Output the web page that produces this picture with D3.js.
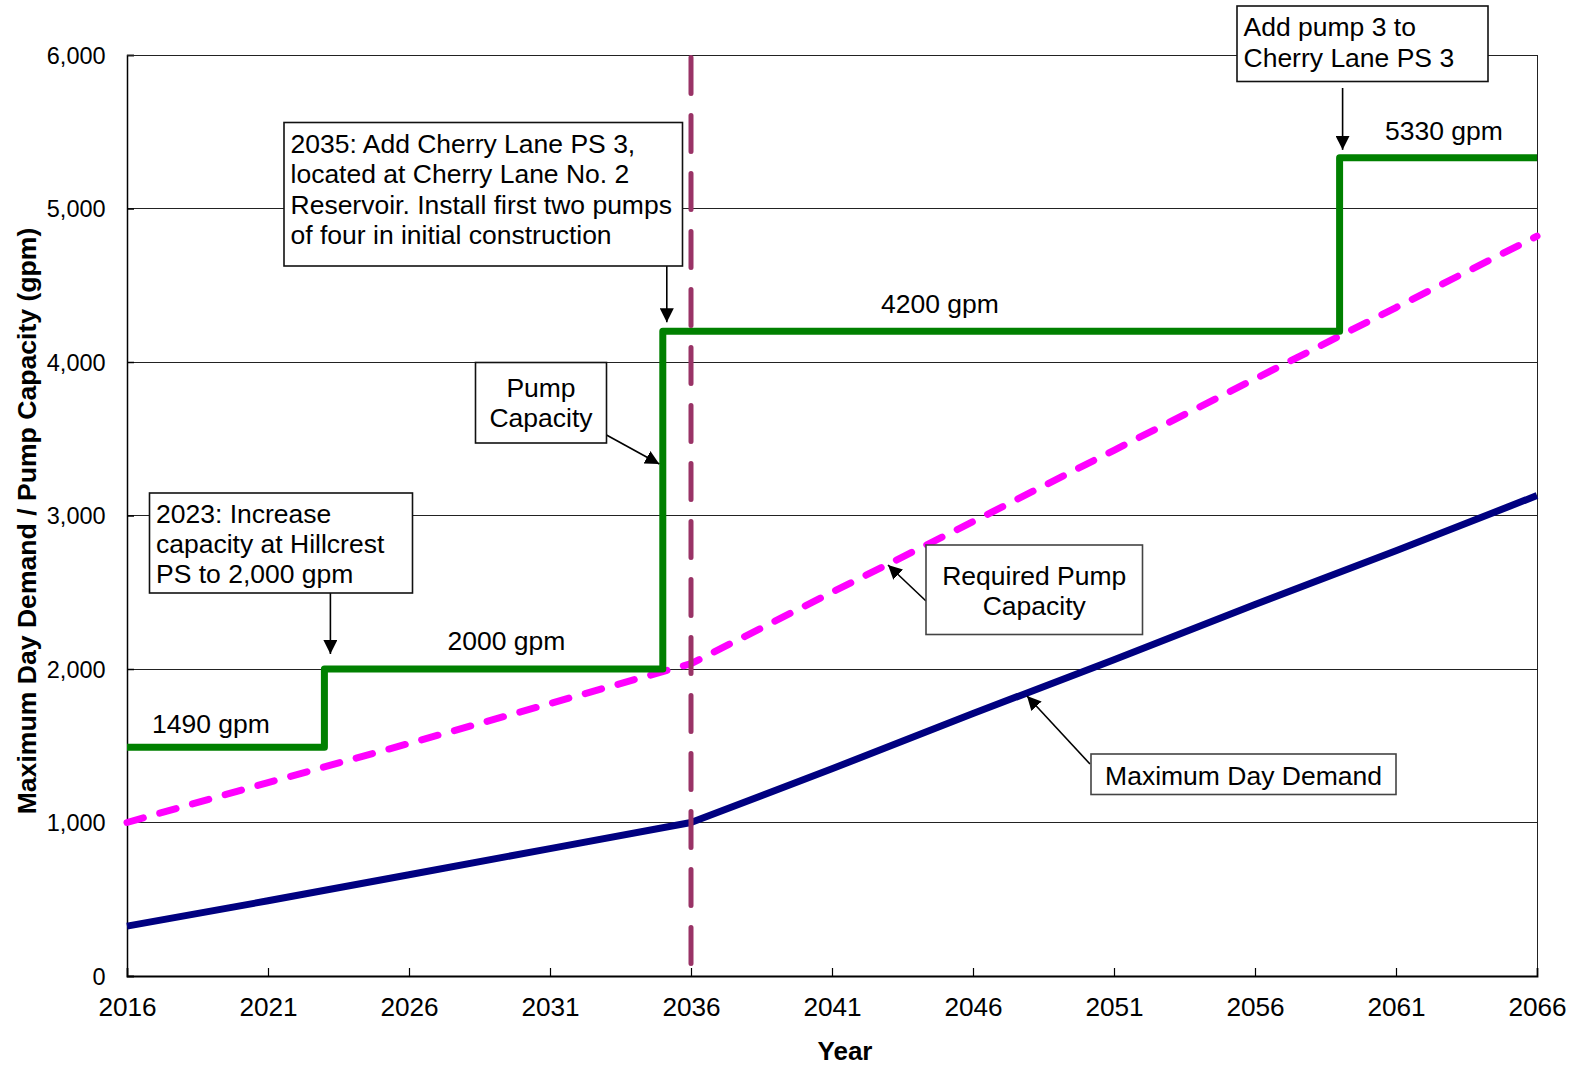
<!DOCTYPE html>
<html>
<head>
<meta charset="utf-8">
<script src="https://cdn.jsdelivr.net/npm/d3@7"></script>
<style>
  html, body { margin: 0; padding: 0; background: #fff; }
  svg { display: block; }
  text { font-family: "Liberation Sans", Arial, Helvetica, sans-serif; fill: #000; }
</style>
</head>
<body>
<svg id="chart" width="1577" height="1065"></svg>
<script>
// ---- data ----
const years = [2016, 2021, 2026, 2031, 2036, 2041, 2046, 2051, 2056, 2061, 2066];
const maxDayDemand = [325, 490, 660, 830, 1000, 1350, 1710, 2060, 2420, 2770, 3130];
const requiredCapacity = [1000, 1260, 1515, 1775, 2035, 2500, 2960, 3425, 3890, 4355, 4820];

// pump capacity steps (value holds until the next year listed)
const capacityYears = [2016, 2023, 2035, 2059, 2066];
const capacityValues = [1490, 2000, 4200, 5330, 5330];

const markerYear = 2036;

const yTickValues = [0, 1000, 2000, 3000, 4000, 5000, 6000];
const xTickValues = [2016, 2021, 2026, 2031, 2036, 2041, 2046, 2051, 2056, 2061, 2066];

const capacityLabels = ["1490 gpm", "2000 gpm", "4200 gpm", "5330 gpm"];

const notes = [
  ["2023: Increase", "capacity at Hillcrest", "PS to 2,000 gpm"],
  ["2035: Add Cherry Lane PS 3,", "located at Cherry Lane No. 2", "Reservoir. Install first two pumps", "of four in initial construction"],
  ["Pump", "Capacity"],
  ["Required Pump", "Capacity"],
  ["Maximum Day Demand"],
  ["Add pump 3 to", "Cherry Lane PS 3"]
];

// ---- layout ----
const W = 1577, H = 1065;
const plot = { left: 127, right: 1537, top: 55, bottom: 976 };

const svg = d3.select("#chart");
svg.append("rect").attr("width", W).attr("height", H).attr("fill", "#fff");

const x = d3.scaleLinear().domain([2016, 2066]).range([plot.left, plot.right]);
const y = d3.scaleLinear().domain([0, 6000]).range([plot.bottom, plot.top]);

// arrowhead
const defs = svg.append("defs");
defs.append("marker")
  .attr("id", "arrow")
  .attr("markerUnits", "userSpaceOnUse")
  .attr("viewBox", "0 0 14 14")
  .attr("refX", 14).attr("refY", 7)
  .attr("markerWidth", 14).attr("markerHeight", 14)
  .attr("orient", "auto")
  .append("path").attr("d", "M0,0 L14,7 L0,14 Z").attr("fill", "#000");

// ---- gridlines ----
svg.append("g")
  .selectAll("line")
  .data(yTickValues.filter(v => v > 0))
  .join("line")
  .attr("x1", plot.left).attr("x2", plot.right)
  .attr("y1", d => y(d)).attr("y2", d => y(d))
  .attr("stroke", "#222").attr("stroke-width", 1)
  .attr("shape-rendering", "crispEdges");

// right frame
svg.append("line")
  .attr("x1", plot.right).attr("x2", plot.right)
  .attr("y1", plot.top).attr("y2", plot.bottom)
  .attr("stroke", "#222").attr("stroke-width", 1)
  .attr("shape-rendering", "crispEdges");

// ---- axes ----
const yAxis = d3.axisLeft(y).tickValues(yTickValues).tickSize(-7).tickPadding(28)
  .tickFormat(d3.format(","));
const gy = svg.append("g").attr("transform", `translate(${plot.left},0)`).call(yAxis);
gy.select(".domain").attr("stroke", "#000").attr("stroke-width", 1.5);
gy.selectAll(".tick line").attr("stroke", "#000").attr("stroke-width", 1.5);
gy.selectAll(".tick text")
  .attr("font-size", 23.5)
  .attr("font-family", "'Liberation Sans', Arial, sans-serif")
  .attr("x", 105.6 - plot.left)
  .attr("dy", "0.34em");

const xAxis = d3.axisBottom(x).tickValues(xTickValues).tickSize(-8).tickPadding(0)
  .tickFormat(d3.format("d"));
const gx = svg.append("g").attr("transform", `translate(0,${plot.bottom})`).call(xAxis);
gx.select(".domain").attr("stroke", "#000").attr("stroke-width", 1.8);
gx.selectAll(".tick line")
  .attr("stroke", "#000").attr("stroke-width", 1.2)
  .attr("display", d => (d === 2016 || d === 2066) ? "none" : null);
gx.selectAll(".tick text")
  .attr("font-size", 26.2)
  .attr("font-family", "'Liberation Sans', Arial, sans-serif")
  .attr("y", 40).attr("dy", 0);

// axis titles
svg.append("text")
  .attr("x", 845).attr("y", 1060)
  .attr("text-anchor", "middle")
  .attr("font-size", 26).attr("font-weight", "bold")
  .text("Year");

svg.append("text")
  .attr("transform", "translate(36,521) rotate(-90)")
  .attr("text-anchor", "middle")
  .attr("font-size", 26.6).attr("font-weight", "bold")
  .text("Maximum Day Demand / Pump Capacity (gpm)");

// top frame
svg.append("line")
  .attr("x1", plot.left).attr("x2", plot.right)
  .attr("y1", plot.top).attr("y2", plot.top)
  .attr("stroke", "#222").attr("stroke-width", 1)
  .attr("shape-rendering", "crispEdges");

// ---- series ----
const demandLine = d3.line().x((d, i) => x(years[i])).y(d => y(d));
svg.append("path")
  .datum(maxDayDemand)
  .attr("d", demandLine)
  .attr("fill", "none").attr("stroke", "#000080")
  .attr("stroke-width", 7).attr("stroke-linejoin", "round");

svg.append("path")
  .datum(requiredCapacity)
  .attr("d", demandLine)
  .attr("fill", "none").attr("stroke", "#FF00FF")
  .attr("stroke-width", 7).attr("stroke-linecap", "round")
  .attr("stroke-dasharray", "17,17");

const capacityLine = d3.line()
  .x((d, i) => x(capacityYears[i])).y(d => y(d))
  .curve(d3.curveStepAfter);
svg.append("path")
  .datum(capacityValues)
  .attr("d", capacityLine)
  .attr("fill", "none").attr("stroke", "#008000")
  .attr("stroke-width", 7).attr("stroke-linejoin", "round");

// vertical reference at 2036
svg.append("line")
  .attr("x1", x(markerYear)).attr("x2", x(markerYear))
  .attr("y1", plot.top + 2.5).attr("y2", plot.bottom)
  .attr("stroke", "#993366").attr("stroke-width", 5)
  .attr("stroke-linecap", "round")
  .attr("stroke-dasharray", "36,22");

// ---- capacity value labels ----
const labelPos = [
  { x: 152, dy: -14 },
  { x: 447.5, dy: -19.5 },
  { x: 881, dy: -18 },
  { x: 1385, dy: -18 }
];
svg.append("g")
  .selectAll("text")
  .data(capacityLabels)
  .join("text")
  .attr("x", (d, i) => labelPos[i].x)
  .attr("y", (d, i) => y(capacityValues[i]) + labelPos[i].dy)
  .attr("font-size", 26.5)
  .text(d => d);

// ---- callouts ----
function callout(lines, box, opt) {
  const g = svg.append("g");
  if (opt.arrow) {
    g.append("line")
      .attr("x1", opt.arrow[0]).attr("y1", opt.arrow[1])
      .attr("x2", opt.arrow[2]).attr("y2", opt.arrow[3])
      .attr("stroke", "#000").attr("stroke-width", 1.6)
      .attr("marker-end", "url(#arrow)");
  }
  g.append("rect")
    .attr("x", box.x).attr("y", box.y).attr("width", box.w).attr("height", box.h)
    .attr("fill", "#fff").attr("stroke", opt.stroke || "#111").attr("stroke-width", 1.6);
  const t = g.append("text")
    .attr("font-size", 26.5)
    .attr("text-anchor", opt.center ? "middle" : "start");
  lines.forEach((s, i) => {
    t.append("tspan")
      .attr("x", opt.center ? box.x + box.w / 2 : box.x + 6.5)
      .attr("y", box.y + opt.first + i * opt.step)
      .text(s);
  });
}

callout(notes[0], { x: 149.5, y: 493, w: 263, h: 100 },
  { first: 29.5, step: 30, arrow: [x(2023) + 6, 593, x(2023) + 6, y(2000) - 15] });

callout(notes[1], { x: 284, y: 122.5, w: 398.5, h: 143.5 },
  { first: 30, step: 30.5, arrow: [x(2035) + 4, 266, x(2035) + 4, y(4200) - 9] });

callout(notes[2], { x: 475.5, y: 362.5, w: 131, h: 80.5 },
  { first: 34, step: 30.5, center: true, arrow: [606.5, 435, x(2035) - 3.5, 464] });

callout(notes[3], { x: 926, y: 545, w: 216.5, h: 89.5 },
  { first: 39.5, step: 30.5, center: true, stroke: "#444", arrow: [926, 601, 888, 565] });

callout(notes[4], { x: 1091, y: 754, w: 305, h: 40.5 },
  { first: 30.5, step: 30, center: true, stroke: "#444", arrow: [1090, 764, 1027, 696] });

callout(notes[5], { x: 1237, y: 6, w: 251, h: 75.5 },
  { first: 29.5, step: 31, arrow: [x(2059) + 3, 88, x(2059) + 3, y(5330) - 8] });
</script>
</body>
</html>
